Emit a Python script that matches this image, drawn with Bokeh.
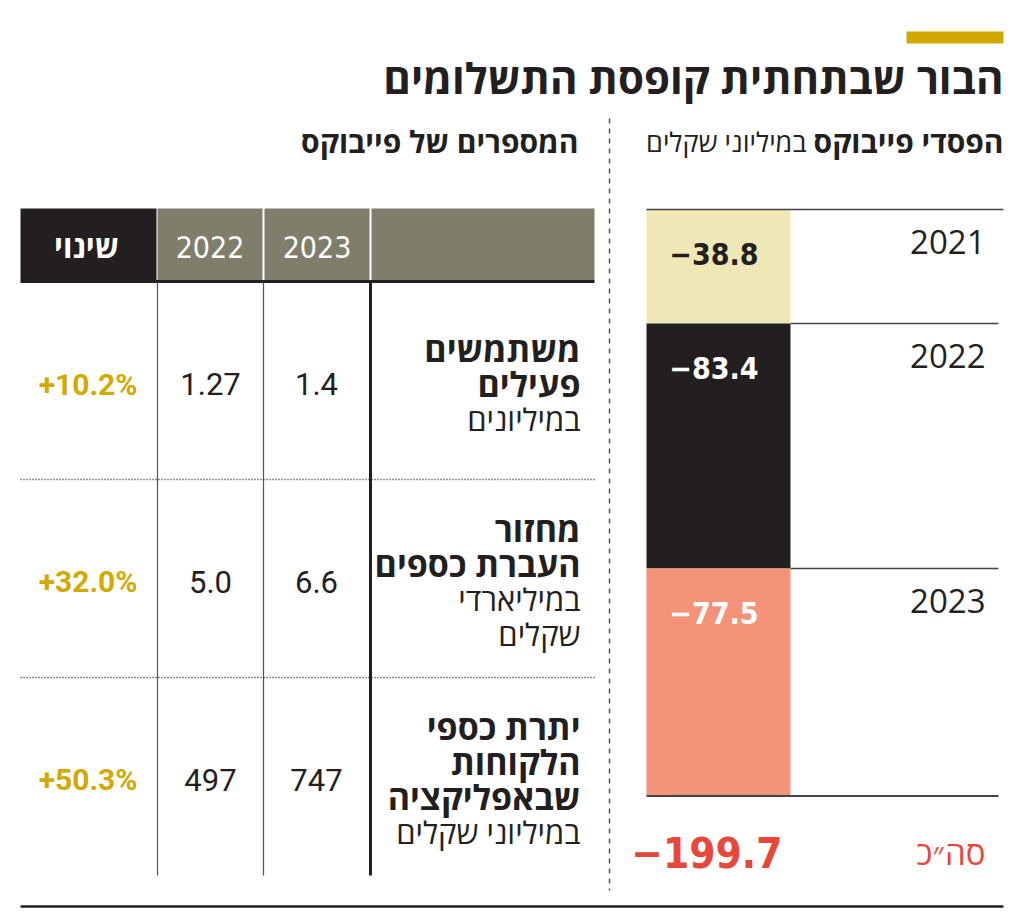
from bokeh.plotting import figure
from bokeh.models import Range1d
from bokeh.core.properties import value
from bokeh.embed import file_html
from bokeh.resources import INLINE

# ---------------- data ----------------
title = "הבור שבתחתית קופסת התשלומים"
left_sub_bold = "הפסדי פייבוקס"
left_sub_reg = "במיליוני שקלים"
table_title = "המספרים של פייבוקס"

years = ["2021", "2022", "2023"]
losses = [38.8, 83.4, 77.5]
loss_labels = ["−38.8", "−83.4", "−77.5"]
total_word = "סה״כ"
bar_colors = ["#efe8b6", "#231f20", "#f4927a"]
bar_text_colors = ["#231f20", "#ffffff", "#ffffff"]

header_labels = ["שינוי", "2022", "2023", ""]
metric_bold = [["משתמשים", "פעילים"], ["מחזור", "העברת כספים"], ["יתרת כספי", "הלקוחות", "שבאפליקציה"]]
metric_unit = [["במיליונים"], ["במיליארדי", "שקלים"], ["במיליוני שקלים"]]
val_2023 = ["1.4", "6.6", "747"]
val_2022 = ["1.27", "5.0", "497"]
change = ["+10.2%", "+32.0%", "+50.3%"]

# ---------------- styles ----------------
HEB = "Open Sans"
NUM = "Roboto"
COND = "'DejaVu Sans Condensed', 'Roboto', sans-serif"
BLACK = "#231f20"
GREY_HDR = "#7f7d6c"
GOLD = "#d2a900"
RED = "#e8473b"

W, H = 1020, 910
p = figure(width=W, height=H, output_backend="svg", toolbar_location=None,
           x_range=Range1d(0, W), y_range=Range1d(H, 0),
           min_border=0, outline_line_color=None, background_fill_color="white")
p.axis.visible = False
p.grid.visible = False

# loss scale: 0 at px 209, total at px 795.5
total = sum(losses)
top_px, bot_px = 209.0, 795.5
k = (bot_px - top_px) / total
p.extra_y_ranges = {"loss": Range1d(start=(H - top_px) / k, end=(0 - top_px) / k)}

def txt(x, y, t, size, color=BLACK, font=HEB, bold=False, align="right", base="middle", **kw):
    p.text(x=[x], y=[y], text=[t], text_font=value(font), text_font_size=f"{size}px",
           text_color=color, text_font_style="bold" if bold else "normal",
           text_align=align, text_baseline=base, **kw)

# title block
p.quad(left=[906], right=[1003], top=[31], bottom=[43], color=GOLD, line_color=None)
txt(1003, 77, title, 42, bold=True)
txt(1003, 141, left_sub_bold, 30, bold=True)
txt(806, 141, left_sub_reg, 27)
txt(578, 141, table_title, 30, bold=True)

# divider
p.segment(x0=[609], y0=[118], x1=[609], y1=[890], line_color="#555555", line_width=1.5, line_dash="5 5")

# ---------------- stacked loss bar ----------------
starts, ends = [], []
acc = 0.0
for v in losses:
    starts.append(acc)
    acc += v
    ends.append(acc)
p.vbar(x=[718] * 3, width=144, bottom=starts, top=ends, fill_color=bar_colors,
       line_color=None, y_range_name="loss")
for i in range(3):
    x0 = 646 if i == 0 else 790
    x1 = 1003 if i == 0 else 998
    p.segment(x0=[x0], x1=[x1], y0=[starts[i]], y1=[starts[i]], line_color="#444444",
              line_width=1.5, y_range_name="loss")
    p.text(x=[758], y=[starts[i] + 15.3], text=[loss_labels[i]], text_font=value(COND),
           text_font_size="30px", text_font_style="bold", text_color=bar_text_colors[i],
           text_align="right", text_baseline="middle", y_range_name="loss")
    p.text(x=[985], y=[starts[i] + 11], text=[years[i]], text_font=value(HEB),
           text_font_size="33px", text_color=BLACK, text_align="right",
           text_baseline="middle", y_range_name="loss")
p.segment(x0=[646], x1=[998], y0=[total], y1=[total], line_color="#444444",
          line_width=1.8, y_range_name="loss")
p.text(x=[782], y=[total + 19.3], text=["−" + f"{total:.1f}"], text_font=value(COND),
       text_font_size="42px", text_font_style="bold", text_color=RED,
       text_align="right", text_baseline="middle", y_range_name="loss")
p.text(x=[985], y=[total + 19.3], text=[total_word], text_font=value(HEB),
       text_font_size="33px", text_color=RED, text_align="right",
       text_baseline="middle", y_range_name="loss")

# ---------------- table ----------------
col_l = [20, 157, 264, 371]
col_r = [156, 262, 369, 594]
hdr_col = [BLACK, GREY_HDR, GREY_HDR, GREY_HDR]
p.quad(left=col_l, right=col_r, top=[208] * 4, bottom=[280] * 4, fill_color=hdr_col, line_color=None)
for i, lab in enumerate(header_labels[:3]):
    cx = (col_l[i] + col_r[i]) / 2
    if i == 0:
        txt(cx - 2, 245, lab, 31, color="white", bold=True, align="center")
    else:
        txt(cx, 246, lab, 30, color="white", font=COND, align="center")
p.segment(x0=[20], x1=[594], y0=[281], y1=[281], line_color=BLACK, line_width=3)

row_top = [282, 479, 677]
row_bot = [479, 677, 875]
for x, w, c in [(157, 1.2, "#555555"), (263, 1.2, "#555555"), (370, 3, BLACK)]:
    p.segment(x0=[x], x1=[x], y0=[282], y1=[875], line_color=c, line_width=w)
for y in row_top[1:]:
    p.segment(x0=[20], x1=[594], y0=[y], y1=[y], line_color="#222222", line_width=1.5, line_dash="1 2")

for r in range(3):
    cy = (row_top[r] + row_bot[r]) / 2 + 3
    txt(137, cy, change[r], 30, color=GOLD, font=NUM, bold=True)
    txt(210, cy, val_2022[r], 31, font=NUM, align="center")
    txt(316, cy, val_2023[r], 31, font=NUM, align="center")
    lines = [(t, True) for t in metric_bold[r]] + [(t, False) for t in metric_unit[r]]
    n = len(lines)
    for j, (t, b) in enumerate(lines):
        ly = cy + (j - (n - 1) / 2) * 35
        txt(580, ly, t, 34 if b else 31, bold=b)

p.segment(x0=[20], x1=[1003], y0=[906], y1=[906], line_color=BLACK, line_width=2.5)

open("out.html", "w").write(file_html(p, INLINE))
